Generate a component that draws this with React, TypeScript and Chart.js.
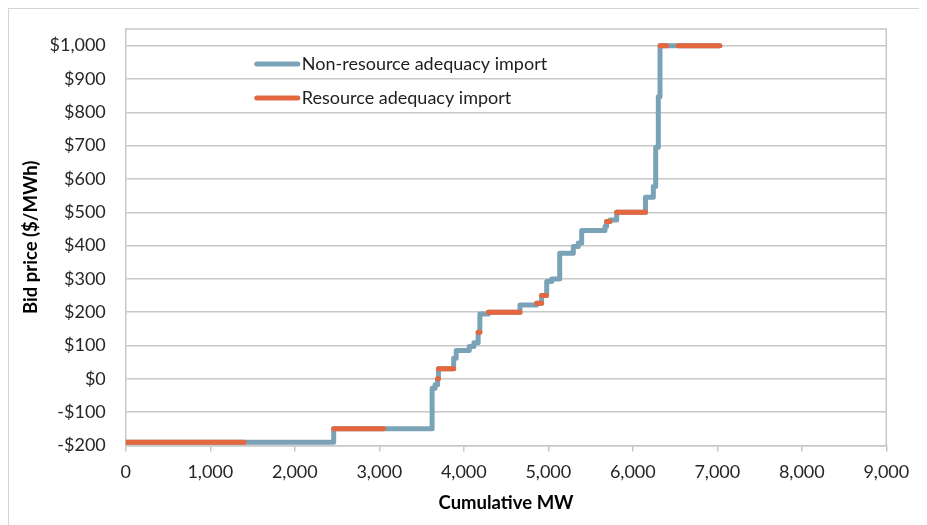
import React, { useEffect, useRef } from "react";
import { Chart, registerables } from "chart.js";

Chart.register(...registerables);

// Step boundaries (cumulative MW) — each step i spans stepStartMW[i]..stepEndMW[i]
const stepStartMW = [0, 1400, 2460, 3050, 3625, 3660, 3690, 3700, 3880, 3910, 4065, 4120, 4170, 4190, 4290, 4665, 4862, 4921, 4981, 5040, 5135, 5296, 5355, 5395, 5671, 5690, 5730, 5809, 6150, 6243, 6271, 6302, 6322, 6400, 6538];
const stepEndMW = [1400, 2460, 3050, 3625, 3660, 3690, 3700, 3880, 3910, 4065, 4120, 4170, 4190, 4290, 4665, 4862, 4921, 4975, 5040, 5135, 5296, 5355, 5395, 5671, 5690, 5730, 5809, 6150, 6243, 6271, 6302, 6322, 6400, 6538, 7030];
// Bid price for each step ($/MWh)
const bidPrice = [-190, -190, -150, -150, -28, -18, 0, 30, 62, 85, 97, 108, 140, 195, 200, 222, 227, 250, 292, 300, 377, 397, 408, 445, 457, 472, 477, 500, 545, 577, 695, 847, 1000, 1000, 1000];
// 1 = resource adequacy import, 0 = non-resource adequacy import
const isResourceAdequacy = [1, 0, 1, 0, 0, 0, 1, 1, 0, 0, 0, 0, 1, 0, 1, 0, 1, 1, 0, 0, 0, 0, 0, 0, 0, 1, 0, 1, 0, 0, 0, 0, 1, 0, 1];

const seriesLabels = ["Non-resource adequacy import", "Resource adequacy import"];
const xTickValues = [0, 1000, 2000, 3000, 4000, 5000, 6000, 7000, 8000, 9000];
const yTickValues = [-200, -100, 0, 100, 200, 300, 400, 500, 600, 700, 800, 900, 1000];

const BLUE = "#7BA3B8";
const ORANGE = "#E4673F";
const FONT = "Lato, 'Open Sans', sans-serif";

function buildFullCurve() {
  const pts: { x: number; y: number }[] = [];
  for (let i = 0; i < bidPrice.length; i++) {
    pts.push({ x: stepStartMW[i], y: bidPrice[i] });
    pts.push({ x: stepEndMW[i], y: bidPrice[i] });
  }
  return pts;
}

function buildRaCurve() {
  const pts: any[] = [];
  for (let i = 0; i < bidPrice.length; i++) {
    if (!isResourceAdequacy[i]) continue;
    pts.push({ x: stepStartMW[i], y: bidPrice[i] });
    pts.push({ x: stepEndMW[i], y: bidPrice[i] });
    pts.push({ x: stepEndMW[i], y: null });
  }
  return pts;
}

const plotFramePlugin = {
  id: "plotFrame",
  beforeDatasetsDraw(chart: any) {
    const { ctx, chartArea } = chart;
    ctx.save();
    ctx.strokeStyle = "#c8c8c8";
    ctx.lineWidth = 1.5;
    ctx.beginPath();
    ctx.moveTo(chartArea.left, chartArea.top);
    ctx.lineTo(chartArea.right, chartArea.top);
    ctx.lineTo(chartArea.right, chartArea.bottom);
    ctx.stroke();
    ctx.restore();
  },
};

const insideLegendPlugin = {
  id: "insideLegend",
  afterDraw(chart: any) {
    const { ctx, chartArea } = chart;
    const x0 = chartArea.left + 131;
    const y0 = chartArea.top + 35;
    ctx.save();
    chart.data.datasets.forEach((ds: any, i: number) => {
      const y = y0 + i * 34;
      ctx.strokeStyle = ds.borderColor;
      ctx.lineWidth = 5;
      ctx.lineCap = "round";
      ctx.beginPath();
      ctx.moveTo(x0, y);
      ctx.lineTo(x0 + 41, y);
      ctx.stroke();
      ctx.fillStyle = "#1e1e1e";
      ctx.font = `18px ${FONT}`;
      ctx.textBaseline = "middle";
      ctx.textAlign = "left";
      ctx.fillText(ds.label, x0 + 45, y);
    });
    ctx.restore();
  },
};

export default function App() {
  const ref = useRef<HTMLCanvasElement>(null);
  useEffect(() => {
    if (!ref.current) return;
    const chart = new Chart(ref.current, {
      type: "line",
      data: {
        datasets: [
          {
            label: seriesLabels[0],
            data: buildFullCurve(),
            borderColor: BLUE,
            backgroundColor: BLUE,
            borderWidth: 5,
            pointRadius: 0,
            borderCapStyle: "round",
            borderJoinStyle: "round",
            tension: 0,
            order: 2,
          },
          {
            label: seriesLabels[1],
            data: buildRaCurve(),
            borderColor: ORANGE,
            backgroundColor: ORANGE,
            borderWidth: 5,
            pointRadius: 0,
            borderCapStyle: "round",
            borderJoinStyle: "round",
            spanGaps: false,
            tension: 0,
            order: 1,
          },
        ],
      },
      plugins: [plotFramePlugin, insideLegendPlugin],
      options: {
        animation: false,
        responsive: false,
        parsing: false as any,
        layout: { padding: { left: 0, top: 20, right: 40.7, bottom: 0 } },
        plugins: { legend: { display: false }, tooltip: { enabled: false } },
        scales: {
          x: {
            type: "linear",
            min: 0,
            max: 9000,
            afterBuildTicks: (s: any) => {
              s.ticks = xTickValues.map((v) => ({ value: v }));
            },
            afterFit: (s: any) => {
              s.height = 79.5;
            },
            grid: { display: true, drawOnChartArea: false, drawTicks: true, tickLength: 6, color: "#c8c8c8", lineWidth: 1.5 },
            border: { display: true, color: "#c8c8c8", width: 1.5 },
            ticks: {
              padding: 10,
              color: "#262626",
              font: { family: FONT, size: 18 },
              maxRotation: 0,
              callback: (v: any) => Number(v).toLocaleString("en-US"),
            },
            title: {
              display: true,
              text: "Cumulative MW",
              color: "#000",
              font: { family: FONT, size: 18.5, weight: "bold" },
              padding: { top: 0, bottom: 11 },
            },
          },
          y: {
            type: "linear",
            min: -200,
            max: 1050,
            afterBuildTicks: (s: any) => {
              s.ticks = yTickValues.map((v) => ({ value: v }));
            },
            afterFit: (s: any) => {
              s.width = 116.8;
              s.paddingTop = 0;
              s.paddingBottom = 0;
            },
            grid: { color: "#c8c8c8", lineWidth: 1.5, drawTicks: false },
            border: { display: true, color: "#c8c8c8", width: 1.5 },
            ticks: {
              padding: 20,
              color: "#262626",
              font: { family: FONT, size: 18 },
              callback: (v: any) => {
                const n = Number(v);
                return (n < 0 ? "-$" : "$") + Math.abs(n).toLocaleString("en-US");
              },
            },
            title: {
              display: true,
              text: "Bid price ($/MWh)",
              color: "#000",
              font: { family: FONT, size: 18.5, weight: "bold" },
              padding: { top: 11, bottom: 0 },
            },
          },
        },
      },
    });
    return () => chart.destroy();
  }, []);

  return (
    <div
      style={{
        width: 918,
        height: 516,
        borderLeft: "1px solid #d4d4d4",
        borderTop: "1px solid #d4d4d4",
        background: "#fff",
      }}
    >
      <canvas ref={ref} width={918} height={516} style={{ display: "block" }} />
    </div>
  );
}
